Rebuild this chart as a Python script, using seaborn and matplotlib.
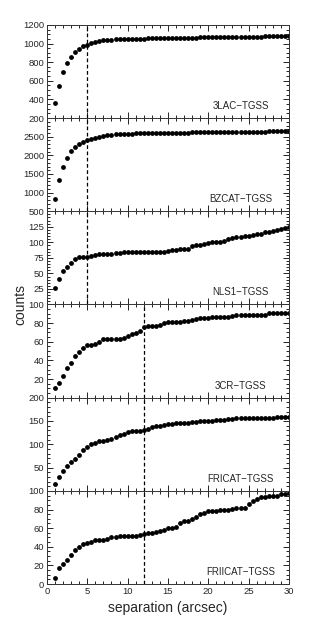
import numpy as np, pandas as pd, matplotlib, matplotlib.pyplot as plt
import seaborn as sns
from matplotlib.ticker import MultipleLocator
matplotlib.use('Agg')

sns.set_style('ticks')
plt.rcParams['font.family'] = ['Liberation Sans', 'DejaVu Sans']

# separation grid (arcsec), 1 .. 30 in 0.5 steps
sep = np.arange(1, 30.01, 0.5)

counts_3lac = [360, 545, 690, 790, 860, 910, 945, 970, 985, 1005, 1015, 1025,
               1033, 1038, 1042, 1045, 1047, 1048, 1049, 1050, 1051, 1052, 1053,
               1054, 1055, 1056, 1057, 1058, 1059, 1060, 1061, 1062, 1063, 1063,
               1064, 1064, 1065, 1066, 1066, 1067, 1068, 1068, 1069, 1070, 1070,
               1071, 1072, 1072, 1073, 1074, 1074, 1075, 1076, 1076, 1077, 1078,
               1078, 1079, 1080]
counts_bzcat = [840, 1340, 1700, 1940, 2110, 2220, 2300, 2360, 2400, 2440, 2470,
                2500, 2520, 2540, 2555, 2565, 2573, 2578, 2582, 2586, 2589, 2592,
                2594, 2596, 2598, 2600, 2602, 2604, 2606, 2607, 2609, 2610, 2612,
                2613, 2614, 2616, 2617, 2618, 2620, 2621, 2622, 2624, 2625, 2626,
                2628, 2629, 2630, 2632, 2633, 2634, 2636, 2637, 2638, 2640, 2641,
                2643, 2645, 2647, 2650]
counts_nls1 = [27, 41, 54, 60, 66, 73, 76, 77, 77, 78, 80, 81, 81, 82, 82, 83,
               83, 84, 84, 84, 84, 84, 84, 85, 85, 85, 85, 85, 86, 87, 87, 89,
               90, 90, 94, 95, 96, 98, 99, 100, 101, 101, 102, 105, 107, 108,
               109, 110, 111, 112, 113, 114, 116, 117, 119, 120, 121, 123, 125]
counts_3cr = [10, 16, 23, 32, 37, 45, 49, 53, 57, 57, 58, 60, 63, 63, 63, 63,
              63, 64, 66, 68, 69, 72, 76, 77, 77, 77, 78, 80, 81, 81, 81, 81,
              82, 82, 83, 84, 86, 86, 86, 87, 87, 87, 87, 87, 88, 89, 89, 89,
              89, 89, 89, 89, 89, 91, 91, 91, 91, 91, 91]
counts_fricat = [14, 30, 43, 54, 63, 69, 77, 87, 95, 101, 102, 107, 108, 109,
                 111, 116, 120, 123, 126, 128, 128, 129, 130, 133, 137, 140, 140,
                 141, 143, 144, 145, 145, 146, 146, 147, 148, 149, 150, 150, 150,
                 151, 152, 153, 154, 154, 156, 156, 156, 156, 156, 156, 156, 156,
                 157, 157, 158, 158, 158, 158]
counts_friicat = [6, 17, 21, 26, 31, 37, 40, 43, 44, 45, 47, 47, 47, 48, 50, 50,
                  52, 52, 52, 52, 52, 53, 54, 55, 55, 56, 57, 58, 60, 60, 61, 65,
                  68, 68, 70, 72, 75, 76, 78, 78, 78, 79, 80, 80, 81, 82, 82, 82,
                  86, 89, 91, 93, 93, 94, 95, 95, 97, 97, 98]

samples = ['3LAC\u2212TGSS', 'BZCAT\u2212TGSS', 'NLS1\u2212TGSS',
           '3CR\u2212TGSS', 'FRICAT\u2212TGSS', 'FRIICAT\u2212TGSS']
all_counts = [counts_3lac, counts_bzcat, counts_nls1,
              counts_3cr, counts_fricat, counts_friicat]
cut_sep = [5, 5, 5, 12, 12, 12]
ylims = [(200, 1200), (500, 3000), (0, 150), (0, 100), (0, 200), (0, 100)]
yticks = [[200, 400, 600, 800, 1000, 1200],
          [500, 1000, 1500, 2000, 2500],
          [25, 50, 75, 100, 125],
          [20, 40, 60, 80, 100],
          [50, 100, 150, 200],
          [0, 20, 40, 60, 80, 100]]
yminor = [50, 100, 5, 5, 10, 5]

df = pd.concat([pd.DataFrame({'sep': sep, 'counts': c, 'sample': s})
                for s, c in zip(samples, all_counts)], ignore_index=True)

fig, axes = plt.subplots(6, 1, figsize=(3.11, 6.22), dpi=100, sharex=True)
fig.subplots_adjust(left=0.151, right=0.929, top=0.960, bottom=0.061, hspace=0)

for i, ax in enumerate(axes):
    sub = df[df['sample'] == samples[i]]
    sns.scatterplot(data=sub, x='sep', y='counts', ax=ax, color='black',
                    s=12, linewidth=0, legend=False)
    ax.axvline(cut_sep[i], color='black', ls=(0, (3, 2)), lw=0.9)
    ax.set_xlim(0, 30)
    ax.set_ylim(*ylims[i])
    ax.set_yticks(yticks[i])
    ax.yaxis.set_minor_locator(MultipleLocator(yminor[i]))
    ax.xaxis.set_major_locator(MultipleLocator(5))
    ax.xaxis.set_minor_locator(MultipleLocator(1))
    ax.tick_params(which='both', direction='in', top=True, right=True,
                   labelsize=6.8, width=0.6, pad=2, color='black')
    ax.tick_params(which='major', length=4)
    ax.tick_params(which='minor', length=2)
    for sp in ax.spines.values():
        sp.set_linewidth(0.7)
        sp.set_color('#333333')
    ax.set_xlabel('')
    ax.set_ylabel('')
    ax.text(0.80, 0.13, samples[i], transform=ax.transAxes, ha='center',
            va='center', fontsize=7)

axes[-1].set_xlabel('separation (arcsec)', fontsize=10, labelpad=4)
fig.text(0.065, 0.51, 'counts', rotation=90, ha='center', va='center',
         fontsize=10)

plt.savefig('out.png', dpi=100)
plt.close()
